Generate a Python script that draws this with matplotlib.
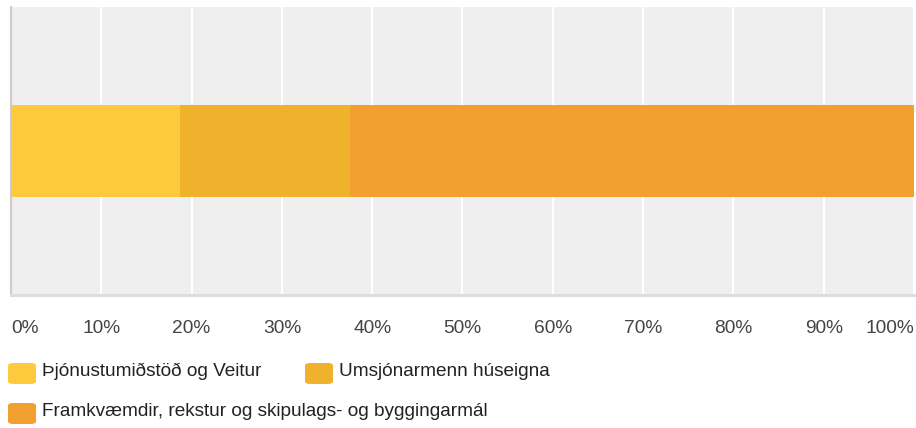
import matplotlib
matplotlib.use('Agg')
import matplotlib.pyplot as plt
from matplotlib.patches import FancyBboxPatch

categories = ['Þjónustumiðstöð og Veitur', 'Umsjónarmenn húseigna', 'Framkvæmdir, rekstur og skipulags- og byggingarmál']
shares = [18.75, 18.75, 62.5]
colors = ['#fdca3e', '#f0b22c', '#f19f2e']
ticks = [0, 10, 20, 30, 40, 50, 60, 70, 80, 90, 100]
tick_labels = ['{}%'.format(t) for t in ticks]

plt.rcParams['font.family'] = ['Liberation Sans', 'DejaVu Sans']

W, H = 916, 428
fig = plt.figure(figsize = (W / 100, H / 100), dpi = 100)
ax = fig.add_axes([11 / W, (H - 295) / H, 903 / W, 288 / H])
ax.set_facecolor('#efefef')

left = 0
for value, color in zip(shares, colors):
    ax.barh(0, value, left = left, height = 0.316, color = color, zorder = 3)
    left += value

ax.set_xlim(0, 100)
ax.set_ylim(-0.5, 0.5)
ax.set_yticks([])
ax.set_xticks(ticks)
ax.set_xticklabels(tick_labels)
ax.tick_params(axis = 'x', length = 0, pad = 18, labelsize = 13.8, labelcolor = '#444444')
labels = ax.get_xticklabels()
labels[0].set_ha('left')
labels[-1].set_ha('right')
ax.grid(axis = 'x', color = 'white', linewidth = 1.5, zorder = 1)
ax.set_axisbelow(True)

for side in ['top', 'right']:
    ax.spines[side].set_visible(False)
ax.spines['left'].set_color('#cccccc')
ax.spines['left'].set_linewidth(1.5)
ax.spines['bottom'].set_color('#dddddd')
ax.spines['bottom'].set_linewidth(2.2)

#legend laid out like the original: two rows, flowing left to right
legend_pos = [(8, 363), (305, 363), (8, 403)]
for (x, y), name, color in zip(legend_pos, categories, colors):
    box = FancyBboxPatch((x / W, 1 - (y + 21) / H), 28 / W, 21 / H,
                         boxstyle = 'round,pad=0,rounding_size=0.006',
                         transform = fig.transFigure, facecolor = color, edgecolor = 'none')
    fig.patches.append(box)
    fig.text((x + 34) / W, 1 - (y + 8) / H, name, fontsize = 13.7, color = '#222222', va = 'center', ha = 'left')

fig.savefig('out.png', dpi = 100)
